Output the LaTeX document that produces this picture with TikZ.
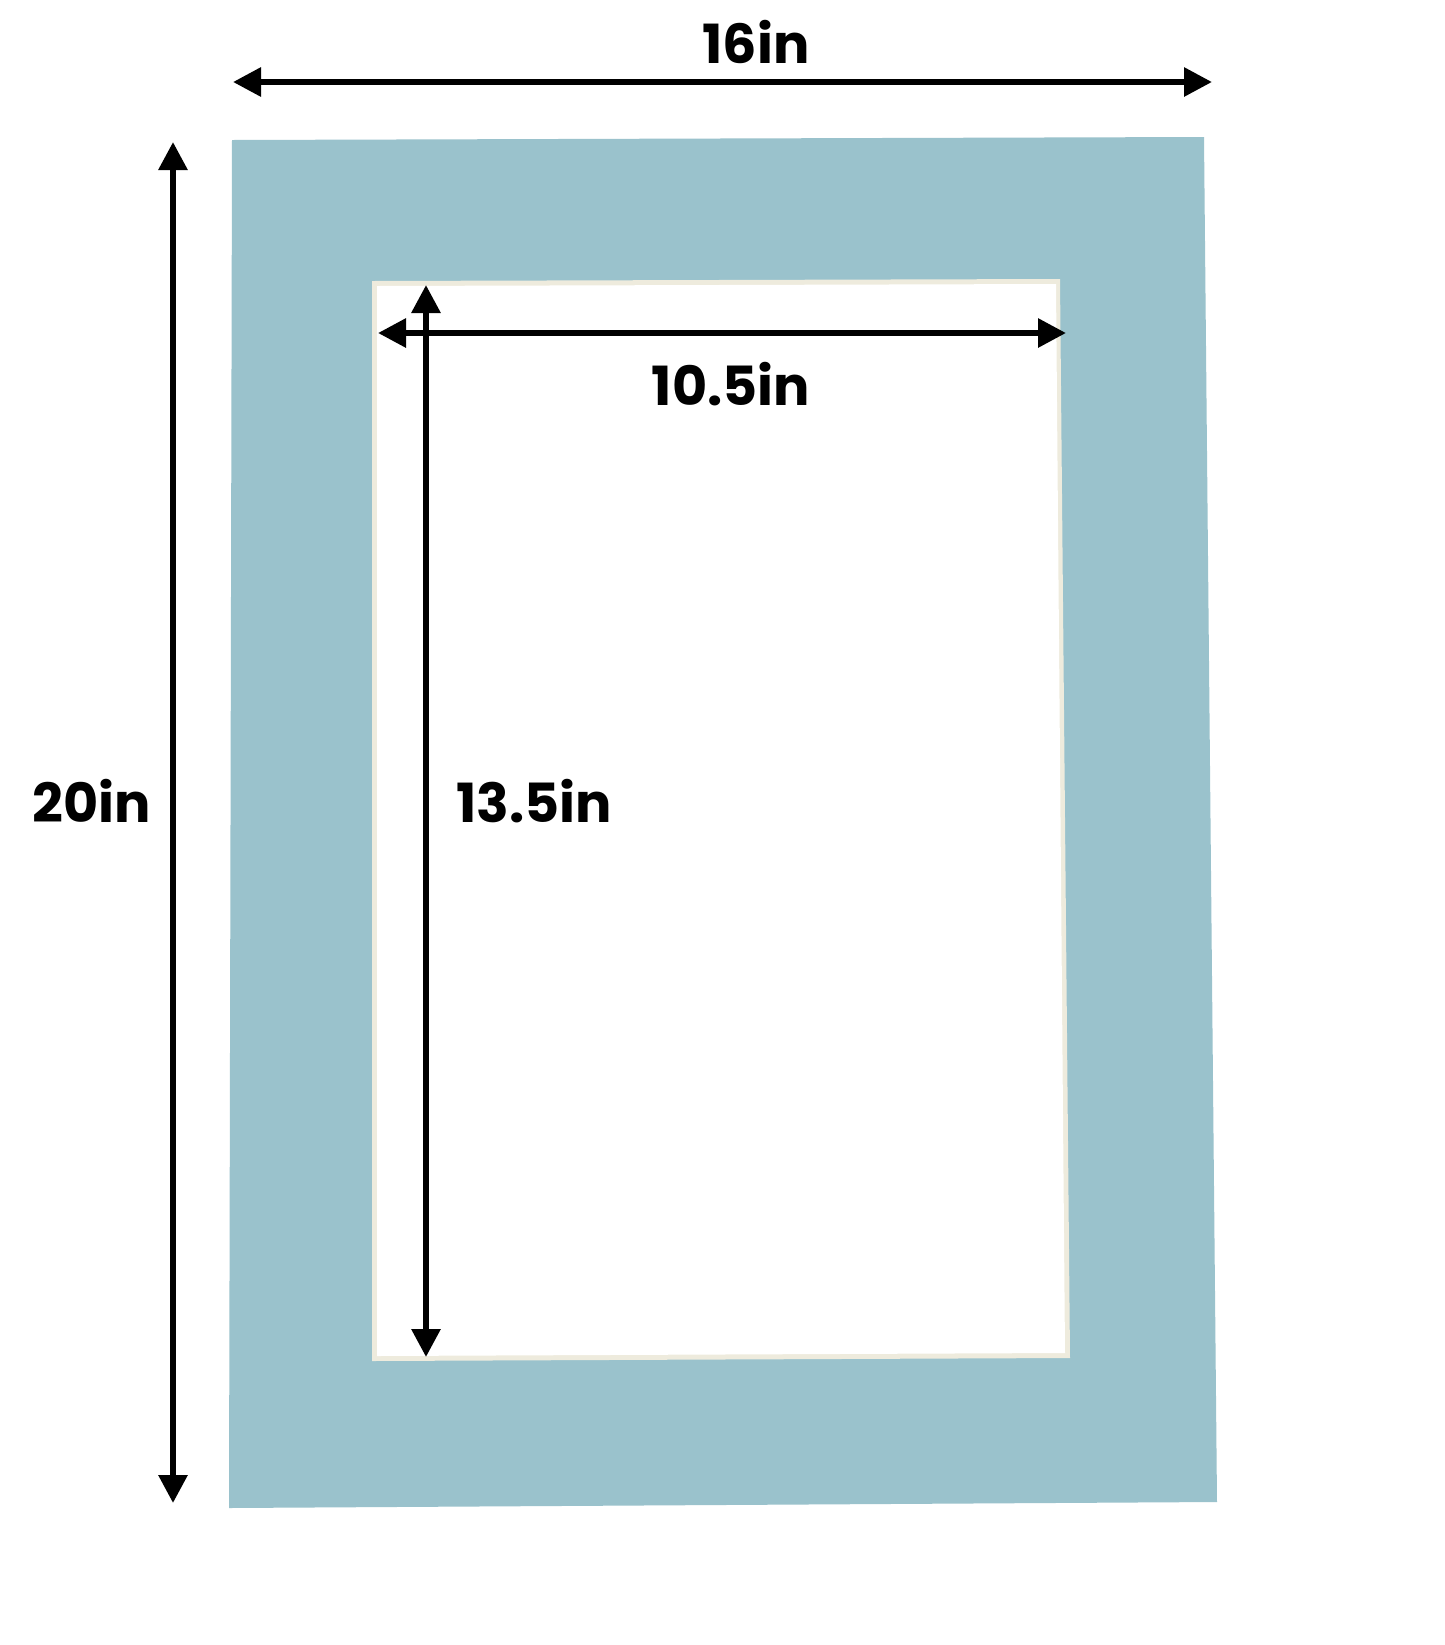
\documentclass[tikz,border=0pt]{standalone}
\usepackage{fontspec}
\setmainfont{Poppins}[BoldFont={* Bold}]
\usetikzlibrary{arrows.meta}
\definecolor{matblue}{HTML}{9AC2CC}
\definecolor{bevel}{HTML}{EEEBDD}
\tikzset{
  dimarrow/.style={line width=3pt, {Triangle[length=14pt,width=14pt]}-{Triangle[length=14pt,width=14pt]}},
  dimlabel/.style={anchor=base, inner sep=0pt, font=\fontsize{27}{27}\selectfont\bfseries},
}
\begin{document}
\begin{tikzpicture}[x=0.5pt,y=-0.5pt]
\useasboundingbox[fill=white] (0,0) rectangle (1445,1645);
% mat board
\fill[matblue] (232,140) -- (1204,137) -- (1217,1502) -- (229,1508) -- cycle;
% window opening with bevel
\fill[bevel] (372,281) -- (1060,279) -- (1070,1358) -- (372,1361) -- cycle;
\fill[white] (377,286) -- (1056,284) -- (1065,1353) -- (377,1356) -- cycle;
% arrow endpoints
\coordinate (tl) at (233,82);
\coordinate (tr) at (1212,82);
\coordinate (lt) at (173,142);
\coordinate (lb) at (173,1503);
\coordinate (il) at (378,333);
\coordinate (ir) at (1066,333);
\coordinate (it) at (426,285);
\coordinate (ib) at (426,1357);
\draw[dimarrow] (tl) -- (tr);
\draw[dimarrow] (lt) -- (lb);
\draw[dimarrow] (il) -- (ir);
\draw[dimarrow] (it) -- (ib);
% labels
\node[dimlabel] (w) at (756,63) {16in};
\node[dimlabel] (iw) at (731,405) {10.5in};
\node[dimlabel] (h) at (92,822) {20in};
\node[dimlabel] (ih) at (534,822) {13.5in};
\end{tikzpicture}
\end{document}
